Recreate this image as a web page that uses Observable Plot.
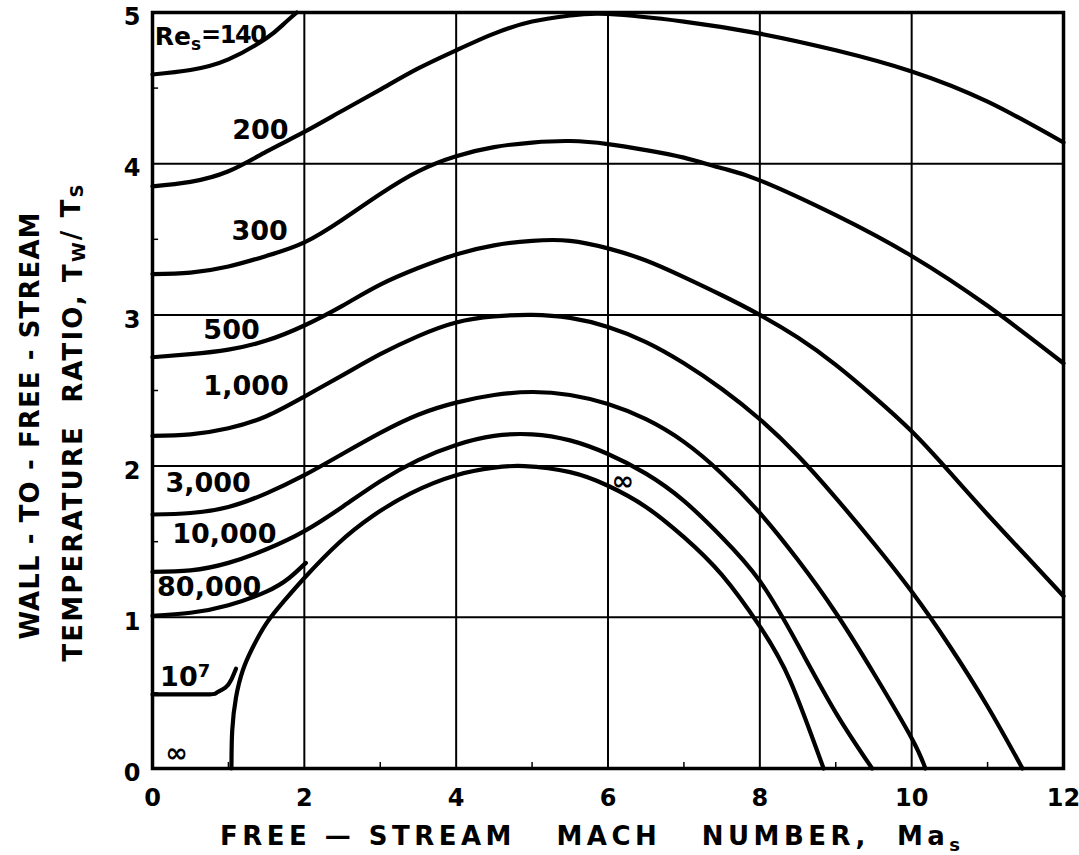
<!DOCTYPE html>
<html><head><meta charset="utf-8">
<script src="https://cdn.jsdelivr.net/npm/d3@7"></script>
<script src="https://cdn.jsdelivr.net/npm/@observablehq/plot@0.6"></script>
<style>
body{margin:0;background:#fff;}
#chart svg{font-family:"DejaVu Sans",sans-serif;}
</style></head><body>
<div id="chart"></div>
<script>
// Curves of wall-to-free-stream temperature ratio vs free-stream Mach number, by Reynolds number
const re140 = [[0,4.59],[0.5,4.62],[1,4.69],[1.5,4.83],[1.72,4.92],[1.9,5.0]];
const re200 = [[0,3.85],[0.5,3.88],[1,3.95],[1.5,4.08],[2,4.21],[2.5,4.35],[3,4.49],[3.5,4.63],[4,4.75],[4.5,4.86],[5,4.94],[5.5,4.98],[6,4.99],[7,4.94],[8,4.86],[9,4.75],[10,4.61],[11,4.41],[12,4.14]];
const re300 = [[0,3.27],[0.5,3.28],[1,3.32],[1.5,3.39],[2,3.48],[2.5,3.63],[3,3.80],[3.5,3.95],[4,4.05],[4.5,4.11],[5,4.14],[5.5,4.15],[6,4.13],[6.5,4.09],[7,4.04],[7.5,3.97],[8,3.89],[9,3.66],[10,3.39],[11,3.06],[12,2.68]];
const re500 = [[0,2.72],[0.5,2.74],[1,2.77],[1.5,2.83],[2,2.93],[2.5,3.06],[3,3.20],[3.5,3.31],[4,3.40],[4.5,3.46],[5,3.49],[5.5,3.49],[6,3.44],[6.5,3.36],[7,3.25],[7.5,3.13],[8,3.00],[8.5,2.85],[9,2.67],[9.5,2.46],[10,2.23],[10.5,1.96],[11,1.68],[11.5,1.41],[12,1.14]];
const re1000 = [[0,2.20],[0.5,2.21],[1,2.25],[1.5,2.33],[2,2.46],[2.5,2.60],[3,2.74],[3.5,2.86],[4,2.95],[4.5,2.99],[5,3.0],[5.5,2.98],[6,2.92],[6.5,2.82],[7,2.68],[7.5,2.51],[8,2.31],[8.5,2.07],[9,1.79],[9.5,1.49],[10,1.17],[10.5,0.81],[11,0.41],[11.46,0]];
const re3000 = [[0,1.68],[0.5,1.69],[1,1.73],[1.5,1.82],[2,1.94],[2.5,2.08],[3,2.22],[3.5,2.34],[4,2.42],[4.5,2.47],[5,2.49],[5.5,2.47],[6,2.41],[6.5,2.31],[7,2.16],[7.5,1.95],[8,1.69],[8.5,1.38],[9,1.03],[9.5,0.63],[10,0.2],[10.18,0]];
const re10000 = [[0,1.30],[0.5,1.31],[1,1.36],[1.5,1.45],[2,1.57],[2.5,1.73],[3,1.90],[3.5,2.04],[4,2.14],[4.5,2.20],[5,2.21],[5.5,2.17],[6,2.08],[6.5,1.95],[7,1.77],[7.5,1.53],[8,1.24],[8.5,0.82],[9,0.37],[9.48,0]];
const re80000 = [[0,1.01],[0.5,1.03],[1,1.08],[1.5,1.17],[1.8,1.26],[2.02,1.36]];
const re1e7 = [[0,0.49],[0.7,0.49],[0.84,0.5],[0.96,0.535],[1.04,0.59],[1.1,0.66]];
const reInf = [[1.04,0],[1.05,0.25],[1.1,0.47],[1.19,0.65],[1.32,0.8],[1.5,0.96],[1.72,1.1],[2,1.26],[2.45,1.49],[2.9,1.67],[3.4,1.82],[4,1.94],[4.5,1.99],[4.9,2.0],[5.5,1.96],[6,1.87],[6.5,1.73],[7,1.53],[7.5,1.28],[8,0.94],[8.4,0.58],[8.84,0]];

const seriesNames = ["140","200","300","500","1000","3000","10000","80000","1e7","inf"];
const seriesData = [re140,re200,re300,re500,re1000,re3000,re10000,re80000,re1e7,reInf];

// Curve labels
const labelTexts = ["Re_s=140","200","300","500","1,000","3,000","10,000","80,000","10^7","∞","∞"];
const labelX = [0.03,1.05,1.04,0.67,0.67,0.17,0.26,0.06,0.10,0.17,6.05];
const labelY = [4.84,4.22,3.55,2.90,2.53,1.885,1.55,1.20,0.60,0.10,1.90];

// Axes
const xTicks = [0,2,4,6,8,10,12];
const yTicks = [0,1,2,3,4,5];
const xGrid = [2,4,6,8,10];
const yGrid = [1,2,3,4];
const xMinor = [1,3,5,7,9,11];
const yMinor = [0.5,1.5,2.5,3.5,4.5];

const rows = seriesData.flatMap((pts, i) => pts.map(([x, y]) => ({series: seriesNames[i], x, y})));
const labels = labelTexts.map((t, i) => ({text: t, x: labelX[i], y: labelY[i]}));

const plot = Plot.plot({
  width: 1079,
  height: 855,
  marginLeft: 152,
  marginRight: 16,
  marginTop: 12,
  marginBottom: 87,
  x: {domain: [0, 12]},
  y: {domain: [0, 5]},
  style: {fontFamily: "DejaVu Sans, sans-serif", background: "#fff", color: "#000"},
  marks: [
    Plot.ruleX(xGrid, {stroke: "#000", strokeWidth: 2}),
    Plot.ruleY(yGrid, {stroke: "#000", strokeWidth: 2}),
    Plot.ruleX(xMinor, {y1: 0, y2: 0.04, stroke: "#000", strokeWidth: 1.5}),
    Plot.ruleY(yMinor, {x1: 0, x2: 0.08, stroke: "#000", strokeWidth: 1.5}),
    Plot.line(rows, {x: "x", y: "y", z: "series", curve: "natural", stroke: "#000", strokeWidth: 4.2, strokeLinecap: "round", strokeLinejoin: "round"}),
    Plot.text(labels, {x: "x", y: "y", text: "text", textAnchor: "start", fontSize: 27, fontWeight: "bold", fill: "#000"}),
    Plot.frame({stroke: "#000", strokeWidth: 3.5}),
    Plot.axisX(xTicks, {tickSize: 0, tickPadding: 20, fontSize: 24, fontWeight: "bold", label: null, tickFormat: d3.format("d")}),
    Plot.axisY(yTicks, {tickSize: 0, tickPadding: 12, dy: 5, fontSize: 24, fontWeight: "bold", label: null, tickFormat: d3.format("d")})
  ]
});

const svg = d3.select(plot);
// replace plain label markup with sub/superscripts
svg.selectAll("text").each(function() {
  const t = d3.select(this);
  const s = this.textContent;
  if (s === "Re_s=140") {
    t.text(null);
    t.append("tspan").attr("font-size", 25).text("Re");
    t.append("tspan").attr("font-size", 17).attr("dy", "0.3em").text("s");
    t.append("tspan").attr("dy", "-0.3em").attr("font-size", 24).attr("letter-spacing", -1.5).text("=140");
  } else if (s === "10^7") {
    t.text(null);
    t.append("tspan").text("10");
    t.append("tspan").attr("font-size", 18).attr("dy", "-0.55em").text("7");
  }
});

// axis titles
svg.append("text")
  .attr("transform", "translate(30,426) rotate(-90)")
  .attr("text-anchor", "middle").attr("dominant-baseline", "central")
  .attr("font-size", 26).attr("font-weight", "bold").attr("fill", "#000")
  .attr("textLength", 427).attr("lengthAdjust", "spacing")
  .style("white-space", "pre")
  .text("WALL - TO - FREE - STREAM");

const ax2 = svg.append("text")
  .attr("transform", "translate(73,423) rotate(-90)")
  .attr("text-anchor", "middle").attr("dominant-baseline", "central")
  .attr("font-size", 26).attr("font-weight", "bold").attr("fill", "#000")
  .attr("textLength", 477).attr("lengthAdjust", "spacing")
  .style("white-space", "pre");
ax2.append("tspan").text("TEMPERATURE  RATIO, T");
ax2.append("tspan").attr("font-size", 18).attr("dy", "0.3em").text("W");
ax2.append("tspan").attr("dy", "-0.3em").text("/ T");
ax2.append("tspan").attr("font-size", 18).attr("dy", "0.3em").text("S");

const ax3 = svg.append("text")
  .attr("x", 590).attr("y", 845)
  .attr("text-anchor", "middle")
  .attr("font-size", 26).attr("font-weight", "bold").attr("fill", "#000")
  .attr("textLength", 740).attr("lengthAdjust", "spacing")
  .style("white-space", "pre");
ax3.append("tspan").text("FREE — STREAM   MACH   NUMBER,  Ma");
ax3.append("tspan").attr("font-size", 18).attr("dy", "0.35em").text("s");

document.getElementById("chart").appendChild(plot);
</script>
</body></html>
